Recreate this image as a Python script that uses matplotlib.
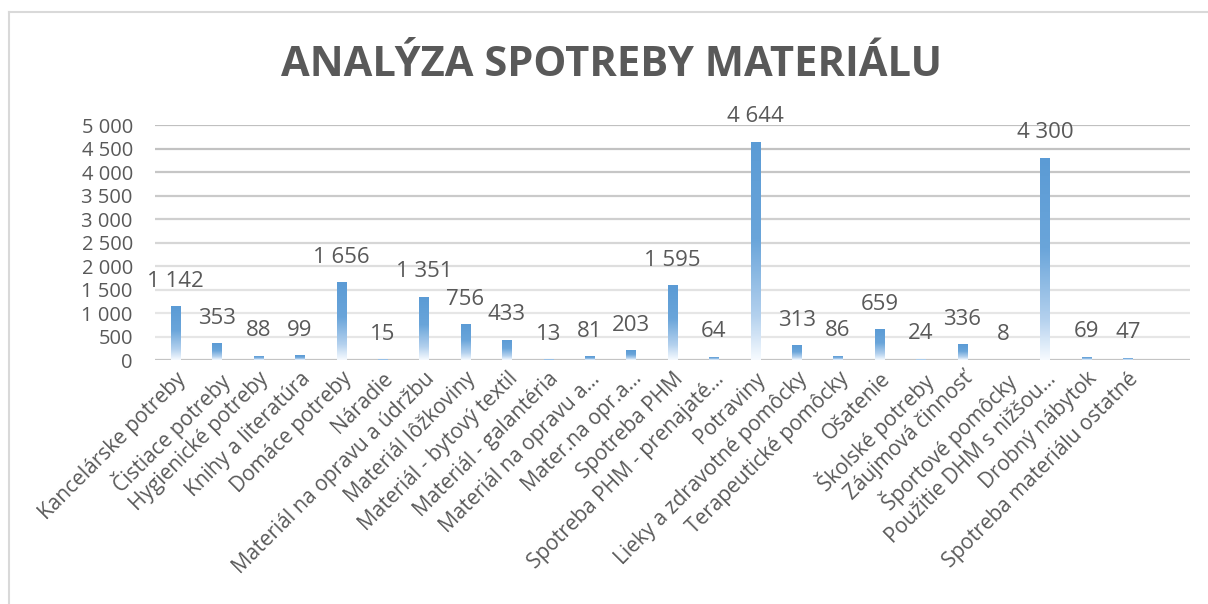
import matplotlib
matplotlib.use("Agg")
import matplotlib.pyplot as plt
import numpy as np
from matplotlib.colors import LinearSegmentedColormap
from matplotlib.lines import Line2D

categories = [
    "Kancelárske potreby", "Čistiace potreby", "Hygienické potreby",
    "Knihy a literatúra", "Domáce potreby", "Náradie",
    "Materiál na opravu a údržbu", "Materiál lôžkoviny", "Materiál - bytový textil",
    "Materiál - galantéria", "Materiál na opravu a...", "Mater.na opr.a...",
    "Spotreba PHM", "Spotreba PHM - prenajaté...", "Potraviny",
    "Lieky a zdravotné pomôcky", "Terapeutické pomôcky", "Ošatenie",
    "Školské potreby", "Záujmová činnosť", "Športové pomôcky",
    "Použitie DHM s nižšou...", "Drobný nábytok", "Spotreba materiálu ostatné",
]
values = [1142, 353, 88, 99, 1656, 15, 1351, 756, 433, 13, 81, 203, 1595, 64,
          4644, 313, 86, 659, 24, 336, 8, 4300, 69, 47]
yticks = [0, 500, 1000, 1500, 2000, 2500, 3000, 3500, 4000, 4500, 5000]
title = "ANALÝZA SPOTREBY MATERIÁLU"

def fmt(v):
    return f"{v:,}".replace(",", " ")

plt.rcParams['font.family'] = ['Open Sans', 'DejaVu Sans']
TXT = "#595959"

fig = plt.figure(figsize=(12.08, 6.04), dpi=100)
ax = fig.add_axes([155/1208, 1-360/604, (1190-155)/1208, (360-125)/604])

x = np.arange(len(categories))
bars = ax.bar(x, values, width=0.225, color="none", edgecolor="none", zorder=3)

cmap = LinearSegmentedColormap.from_list(
    "g", [(0.0, "#5B9BD5"), (0.45, "#6aa5da"), (0.8, "#b4d1ee"), (1.0, "#f7fbff")])
grad = np.linspace(0, 1, 256).reshape(-1, 1)
for b in bars:
    bx, by = b.get_x(), b.get_y()
    w, h = b.get_width(), b.get_height()
    im = ax.imshow(grad, cmap=cmap, aspect="auto", extent=(bx, bx + w, by, by + h),
                   origin="upper", zorder=3, interpolation="bilinear")
    im.set_clip_path(b)

for xi, v in zip(x, values):
    ax.annotate(fmt(v), (xi, v), xytext=(0, 18), textcoords="offset points",
                ha="center", va="center", fontsize=16, color=TXT)

# one empty slot at the right, as in the reference
ax.set_xlim(-0.5, len(categories) + 0.5)
ax.set_ylim(0, 5000)
ax.set_yticks(yticks)
ax.set_yticklabels([fmt(t) for t in yticks], fontsize=14.5, color=TXT)
ax.tick_params(axis="y", length=0, pad=16)
ax.tick_params(axis="x", length=0, pad=6)
ax.set_xticks(x)
ax.set_xticklabels(categories, rotation=45, ha="right", va="top",
                   rotation_mode="anchor", fontsize=15, color=TXT)
for s in ax.spines.values():
    s.set_visible(False)

grid_cols = ["#c4c4c4", "#e6e6e6", "#e6e6e6", "#e2e2e2", "#dedede", "#d6d6d6",
             "#cfcfcf", "#cacaca", "#c6c6c6", "#c2c2c2", "#c0c0c0"]
for t, c in zip(yticks, grid_cols):
    ax.axhline(t, color=c, lw=1.6, zorder=1)

fig.text((275 + 948) / 2 / 1208, 1 - 66 / 604, title, ha="center", va="center",
         fontsize=30, fontweight="bold", color=TXT, family=["Open Sans", "DejaVu Sans"])

fig.add_artist(Line2D([9/1208, 1], [1-12/604, 1-12/604], transform=fig.transFigure,
                      color="#d9d9d9", lw=1.5))
fig.add_artist(Line2D([9/1208, 9/1208], [0, 1-12/604], transform=fig.transFigure,
                      color="#d9d9d9", lw=1.5))

fig.savefig("out.png", dpi=100, facecolor="white")
